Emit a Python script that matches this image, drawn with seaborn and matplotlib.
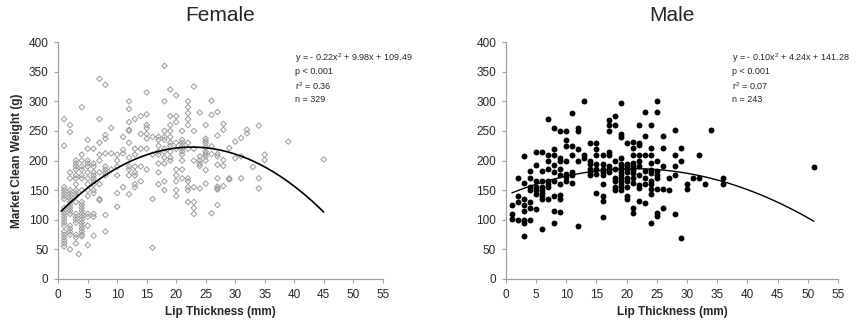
import numpy as np
import pandas as pd
import matplotlib
matplotlib.use("Agg")
import matplotlib.pyplot as plt
import seaborn as sns

# Female: lip thickness (mm) and market clean weight (g), read column by column
female_thickness = (
    [1] * 20 + [2] * 18 + [3] * 18 + [3.5] + [4] * 21 + [5] * 14 + [6] * 13 + [7] * 9
    + [8] * 10 + [9] * 3 + [10] * 6 + [11] * 4 + [12] * 11 + [13] * 8 + [14] * 5
    + [15] * 8 + [16] * 4 + [17] * 8 + [18] * 11 + [19] * 10 + [20] * 10 + [21] * 10
    + [22] * 12 + [23] * 8 + [24] * 6 + [25] * 11 + [26] * 5 + [27] * 10 + [28] * 5
    + [29] * 3 + [30] * 2 + [31] * 3 + [32] * 2 + [33] + [34] * 3 + [35] * 2 + [39] + [45]
)
female_weight = [
    # 1
    270, 225, 155, 150, 145, 140, 135, 120, 115, 110, 105, 100, 95, 90, 80, 75, 70, 65, 60, 55,
    # 2
    260, 248, 180, 170, 150, 145, 140, 135, 130, 125, 120, 115, 110, 90, 85, 80, 75, 50,
    # 3
    200, 195, 190, 185, 175, 170, 160, 150, 145, 140, 130, 110, 105, 100, 95, 75, 70, 60,
    # 3.5
    42,
    # 4
    290, 210, 200, 190, 185, 175, 170, 150, 130, 125, 120, 115, 110, 105, 100, 95, 90, 85, 80, 75, 72,
    # 5
    235, 220, 200, 195, 190, 180, 170, 160, 150, 140, 110, 105, 90, 57,
    # 6
    220, 195, 190, 180, 175, 170, 165, 160, 150, 145, 110, 105, 73,
    # 7
    338, 270, 230, 210, 200, 180, 160, 135, 133,
    # 8
    328, 243, 237, 212, 190, 185, 180, 175, 108, 80,
    # 9
    255, 212, 185,
    # 10
    210, 200, 190, 175, 145, 122,
    # 11
    240, 218, 212, 155,
    # 12
    300, 287, 265, 252, 250, 230, 205, 190, 185, 175, 143,
    # 13
    270, 220, 210, 190, 180, 175, 160, 155,
    # 14
    275, 245, 220, 190, 165,
    # 15
    315, 278, 260, 255, 245, 237, 220, 185,
    # 16
    240, 210, 135, 53,
    # 17
    240, 235, 225, 215, 210, 195, 180, 160,
    # 18
    360, 300, 250, 240, 235, 220, 215, 205, 195, 165, 150,
    # 19
    320, 275, 260, 250, 240, 230, 225, 215, 205, 200,
    # 20
    310, 275, 265, 230, 220, 185, 175, 165, 150, 140,
    # 21
    250, 235, 230, 225, 220, 215, 210, 200, 185, 170,
    # 22
    300, 290, 280, 270, 260, 230, 220, 170, 165, 155, 150, 130,
    # 23
    325, 250, 220, 200, 155, 130, 120, 110,
    # 24
    281, 207, 200, 195, 191, 153,
    # 25
    260, 237, 233, 229, 222, 215, 211, 207, 200, 184, 161,
    # 26
    301, 277, 224, 211, 111,
    # 27
    282, 242, 211, 207, 193, 170, 156, 153, 151, 125,
    # 28
    262, 252, 201, 191, 157,
    # 29
    221, 170, 168,
    # 30
    232, 204,
    # 31
    238, 207, 170,
    # 32
    252, 246,
    # 33
    189,
    # 34
    259, 170, 153,
    # 35
    210, 201,
    # 39
    232,
    # 45
    202,
]

# Male
male_thickness = (
    [1] * 3 + [2] * 4 + [3] * 8 + [4] * 7 + [5] * 7 + [6] * 9 + [7] * 8 + [8] * 9
    + [9] * 9 + [10] * 7 + [11] * 6 + [12] * 5 + [13] * 3 + [14] * 6 + [15] * 7
    + [16] * 9 + [17] * 8 + [18] * 8 + [19] * 14 + [20] * 10 + [21] * 11 + [22] * 10
    + [23] * 7 + [24] * 11 + [25] * 9 + [26] * 5 + [27] * 2 + [28] * 5 + [29] * 3
    + [30] * 2 + [31] + [32] * 2 + [33] + [34] + [36] * 2 + [51]
)
male_weight = [
    125, 110, 102,
    170, 140, 130, 100,
    208, 162, 135, 125, 115, 100, 95, 72,
    182, 170, 155, 150, 130, 120, 100,
    215, 192, 165, 155, 150, 143, 118,
    215, 182, 165, 155, 150, 145, 140, 135, 84,
    270, 210, 200, 185, 165, 160, 155, 135,
    255, 220, 210, 192, 180, 165, 140, 115, 95,
    250, 205, 200, 185, 175, 160, 142, 135, 113,
    250, 235, 225, 200, 178, 172, 165,
    280, 225, 210, 180, 175, 162,
    255, 250, 220, 200, 90,
    300, 210, 205,
    230, 200, 195, 185, 180, 175,
    230, 220, 210, 195, 185, 178, 145,
    210, 195, 185, 180, 175, 160, 140, 132, 105,
    268, 260, 250, 215, 210, 190, 185, 180,
    275, 260, 200, 185, 170, 165, 155, 150,
    297, 245, 240, 205, 195, 190, 185, 180, 175, 170, 165, 160, 155, 150,
    230, 195, 190, 185, 180, 170, 165, 155, 140, 135,
    231, 221, 210, 196, 191, 184, 179, 170, 162, 120, 111,
    260, 229, 226, 210, 200, 190, 175, 159, 154, 131,
    282, 242, 210, 170, 161, 129, 182,
    260, 221, 196, 184, 179, 166, 161, 152, 144, 95, 210,
    301, 282, 200, 182, 176, 170, 152, 111, 106,
    241, 221, 190, 152, 120,
    170, 151,
    252, 210, 190, 176, 110,
    221, 200, 69,
    161, 152,
    170,
    210, 170,
    161,
    252,
    170, 161,
    189,
]

female_fit = [-0.22, 9.98, 109.49]
male_fit = [-0.10, 4.24, 141.28]
female_range = [0.5, 45]
male_range = [1, 51]
female_stats = ["y = - 0.22x$^2$ + 9.98x + 109.49", "p < 0.001", "r$^2$ = 0.36", "n = 329"]
male_stats = ["y = - 0.10x$^2$ + 4.24x + 141.28", "p < 0.001", "r$^2$ = 0.07", "n = 243"]

sns.set_style("white")
plt.rcParams['font.family'] = ['Liberation Sans', 'DejaVu Sans']
plt.rcParams['mathtext.fontset'] = 'custom'
plt.rcParams['mathtext.rm'] = 'Liberation Sans'

female_df = pd.DataFrame({'thickness': female_thickness, 'weight': female_weight})
male_df = pd.DataFrame({'thickness': male_thickness, 'weight': male_weight})

fig = plt.figure(figsize=(8.56, 3.29), dpi=100)
ax_f = fig.add_axes([0.068, 0.152, 0.379, 0.72])
ax_m = fig.add_axes([0.591, 0.152, 0.388, 0.72])


def curve_df(coef, rng):
    xs = np.linspace(rng[0], rng[1], 100)
    return pd.DataFrame({'thickness': xs, 'weight': np.polyval(coef, xs)})


sns.scatterplot(data=female_df, x='thickness', y='weight', ax=ax_f, marker='D', s=8,
                facecolor='none', edgecolor='#9a9a9a', linewidth=0.7)
sns.lineplot(data=curve_df(female_fit, female_range), x='thickness', y='weight',
             ax=ax_f, color='black', linewidth=1.2)

sns.scatterplot(data=male_df, x='thickness', y='weight', ax=ax_m, marker='o', s=18,
                color='black', edgecolor='black', linewidth=0)
sns.lineplot(data=curve_df(male_fit, male_range), x='thickness', y='weight',
             ax=ax_m, color='black', linewidth=1.0)

for ax, title, stats, tx in [(ax_f, 'Female', female_stats, 40.2),
                             (ax_m, 'Male', male_stats, 37.4)]:
    ax.set_xlim(0, 55)
    ax.set_ylim(0, 400)
    ax.set_xticks(range(0, 56, 5))
    ax.set_yticks(range(0, 401, 50))
    for s in ['top', 'right']:
        ax.spines[s].set_visible(False)
    for s in ['left', 'bottom']:
        ax.spines[s].set_color('#a0a0a0')
        ax.spines[s].set_linewidth(0.9)
    ax.tick_params(axis='both', direction='out', length=3, width=0.8, color='#a0a0a0',
                   labelsize=8.5, pad=4, left=True, bottom=True)
    ax.set_xlabel('Lip Thickness (mm)', fontsize=8.5, fontweight='bold', labelpad=4)
    ax.set_ylabel('')
    ax.set_title(title, fontsize=15, pad=15)
    ax.text(tx, 385, "\n".join(stats), fontsize=6.5, va='top', ha='left', linespacing=1.4)

ax_f.set_ylabel('Market Clean Weight (g)', fontsize=8.5, fontweight='bold', labelpad=4)

fig.savefig('out.png', dpi=100)
